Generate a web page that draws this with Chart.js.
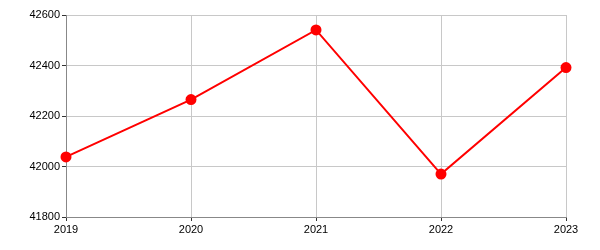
<!DOCTYPE html>
<html>
<head>
<meta charset="utf-8">
<script src="https://cdn.jsdelivr.net/npm/chart.js@4"></script>
<style>
  html, body { margin: 0; padding: 0; background: #fff; }
  #wrap { width: 600px; height: 250px; }
</style>
</head>
<body>
<div id="wrap"><canvas id="chart" width="600" height="250"></canvas></div>
<script>
const years = ['2019', '2020', '2021', '2022', '2023'];
const values = [42038, 42265, 42541, 41970, 42392];
const yMin = 41800;
const yMax = 42600;
const yStep = 200;

Chart.defaults.font.family = '"Liberation Sans", Arial, sans-serif';
Chart.defaults.font.size = 11;
Chart.defaults.color = '#000';

const ctx = document.getElementById('chart').getContext('2d');
new Chart(ctx, {
  type: 'line',
  data: {
    labels: years,
    datasets: [{
      data: values,
      borderColor: '#ff0000',
      backgroundColor: '#ff0000',
      borderWidth: 2,
      pointRadius: 4.5,
      pointHoverRadius: 4.5,
      tension: 0
    }]
  },
  options: {
    responsive: false,
    animation: false,
    layout: {
      padding: { top: 15, right: 34, left: 0, bottom: 0 }
    },
    plugins: {
      legend: { display: false },
      tooltip: { enabled: false }
    },
    scales: {
      x: {
        offset: false,
        grid: {
          color: '#c8c8c8',
          tickColor: '#333',
          tickLength: 4
        },
        border: { color: '#888' },
        ticks: { padding: 2, maxRotation: 0 },
        afterFit: (scale) => { scale.height = 33; }
      },
      y: {
        min: yMin,
        max: yMax,
        grid: {
          color: '#c8c8c8',
          tickColor: '#333',
          tickLength: 4
        },
        border: { color: '#888' },
        ticks: {
          stepSize: yStep,
          padding: 2,
          callback: (v) => String(v)
        },
        afterFit: (scale) => { scale.width = 66; }
      }
    }
  }
});
</script>
</body>
</html>
